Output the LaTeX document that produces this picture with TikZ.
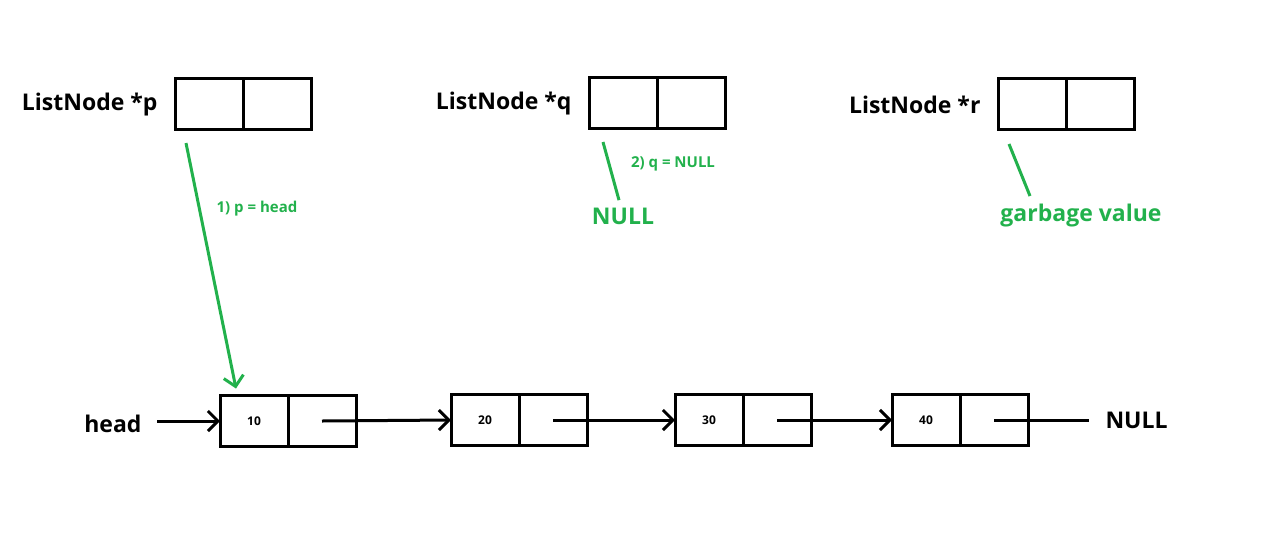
\documentclass[tikz,border=0pt]{standalone}
\usepackage{fontspec}
\setmainfont{Open Sans}
\usetikzlibrary{arrows.meta,calc,positioning}
\definecolor{paintgreen}{RGB}{34,177,76}

\begin{document}
\begin{tikzpicture}[
      x=1pt, y=-1pt,
      font=\bfseries\fontsize{23}{27}\selectfont,
      >={Straight Barb[length=10pt,width=20pt]},
      cell/.style={draw, line width=3pt, minimum width=68pt, minimum height=51pt, inner sep=0pt, outer sep=0pt, font=\bfseries\fontsize{12}{14}\selectfont},
      link/.style={line width=3pt},
      mark line/.style={line width=3pt, draw=paintgreen},
      note/.style={text=paintgreen, font=\bfseries\fontsize{15}{18}\selectfont},
      bignote/.style={text=paintgreen},
]
\useasboundingbox (0,0) rectangle (1280,547);

% pointer variables
\node[cell] (pd) at (209,103.5) {};
\node[cell, right=0pt of pd] (pn) {};
\node[left=14pt of pd, yshift=-1pt] (plabel) {ListNode *p};

\node[cell] (qd) at (623,102.5) {};
\node[cell, right=0pt of qd] (qn) {};
\node[left=14pt of qd, yshift=-1pt] (qlabel) {ListNode *q};

\node[cell] (rd) at (1032,103.5) {};
\node[cell, right=0pt of rd] (rn) {};
\node[left=14pt of rd, yshift=-1pt] (rlabel) {ListNode *r};

% linked list
\node[cell] (d1) at (254,421) {10};
\node[cell, right=0pt of d1] (l1) {};
\node[cell] (d2) at (485,420) {20};
\node[cell, right=0pt of d2] (l2) {};
\node[cell] (d3) at (709,420) {30};
\node[cell, right=0pt of d3] (l3) {};
\node[cell] (d4) at (926,420) {40};
\node[cell, right=0pt of d4] (l4) {};

\node[left=75pt of d1, yshift=-3pt] (head) {head};
\node[right=74pt of l4] (tail) {NULL};

\draw[link,->, shorten <=12pt] (head.east |- d1.west) -- (d1.west);
\draw[link,->] (l1.center) -- (d2.west);
\draw[link,->] (l2.center) -- (d3.west);
\draw[link,->] (l3.center) -- (d4.west);
\draw[link, shorten >=13pt] (l4.center) -- (tail.west);

% what each pointer holds
\coordinate (pstart) at ($(pd.south west)+(11,14)$);
\coordinate (ptip) at ($(d1.north)+(-18,-7)$);
\draw[mark line,->] (pstart) -- (ptip);
\node[note] (pnote) at (257,209) {1) p = head};

\coordinate (qstart) at ($(qd.south west)+(14,14)$);
\node[bignote] (qnull) at (623,216) {NULL};
\coordinate (qend) at ($(qnull.north)+(-4,-4)$);
\draw[mark line] (qstart) -- (qend);
\node[note] (qnote) at (673,164) {2) q = NULL};

\coordinate (rstart) at ($(rd.south west)+(11,15)$);
\node[bignote] (rval) at (1081,216) {garbage value};
\coordinate (rend) at (1030,196);
\draw[mark line] (rstart) -- (rend);

\end{tikzpicture}
\end{document}
